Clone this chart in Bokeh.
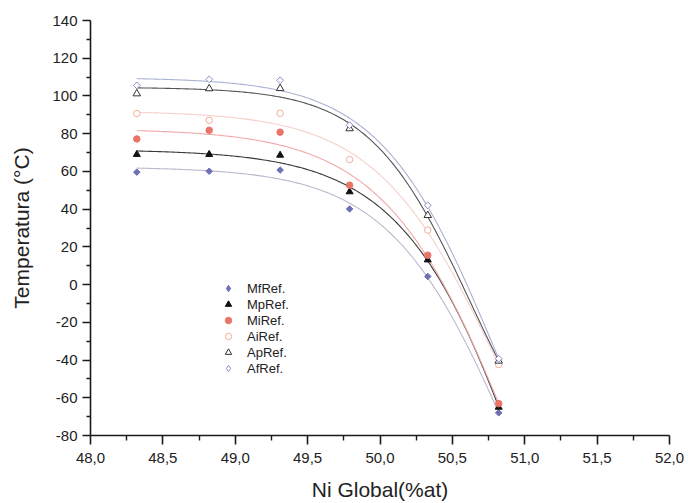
import numpy as np
from bokeh.plotting import figure
from bokeh.models import FixedTicker, Legend, LegendItem, Range1d
from bokeh.embed import file_html
from bokeh.resources import INLINE

# ---- data ----
ni = [48.32, 48.82, 49.31, 49.79, 50.33, 50.82]
mf = [59.6, 60.1, 60.7, 40.1, 4.3, -68.0]
mp = [69.0, 69.0, 68.6, 49.2, 13.1, -65.0]
mi = [77.2, 81.8, 80.8, 52.7, 15.6, -63.1]
ai = [90.7, 87.1, 90.8, 66.3, 28.9, -42.4]
ap = [101.2, 103.9, 104.0, 82.7, 36.7, -40.5]
af = [105.6, 108.8, 108.3, 84.5, 42.0, -39.3]
names = ["MfRef.", "MpRef.", "MiRef.", "AiRef.", "ApRef.", "AfRef."]

x_major = [48.0, 48.5, 49.0, 49.5, 50.0, 50.5, 51.0, 51.5, 52.0]
x_labels = ["48,0", "48,5", "49,0", "49,5", "50,0", "50,5", "51,0", "51,5", "52,0"]
x_minor = [48.25, 48.75, 49.25, 49.75, 50.25, 50.75, 51.25, 51.75]
y_major = [-80, -60, -40, -20, 0, 20, 40, 60, 80, 100, 120, 140]
y_labels = ["-80", "-60", "-40", "-20", "0", "20", "40", "60", "80", "100", "120", "140"]
y_minor = [-70, -50, -30, -10, 10, 30, 50, 70, 90, 110, 130]


def boltzmann_fit(x, y):
    x = np.asarray(x, float)
    y = np.asarray(y, float)
    best = None
    for x0 in np.linspace(49.5, 54.0, 181):
        for dx in np.linspace(0.2, 2.5, 93):
            s = 1.0 / (1.0 + np.exp((x - x0) / dx))
            A = np.vstack([np.ones_like(s), s]).T
            coef, *_ = np.linalg.lstsq(A, y, rcond=None)
            sse = float(((A @ coef - y) ** 2).sum())
            if best is None or sse < best[0]:
                best = (sse, x0, dx, coef)
    _, x0, dx, coef = best
    xs = np.linspace(x.min(), x.max(), 200)
    ys = coef[0] + coef[1] / (1.0 + np.exp((xs - x0) / dx))
    return xs, ys


FONT = "Liberation Sans"

p = figure(width=688, height=503, output_backend="svg", toolbar_location=None,
           x_range=Range1d(48.0, 52.0), y_range=Range1d(-80, 140),
           min_border_left=90, min_border_right=19, min_border_top=20,
           min_border_bottom=67)
p.outline_line_color = None
p.xgrid.visible = False
p.ygrid.visible = False
p.background_fill_color = "white"

series = [
    (mf, dict(marker="square", angle=np.pi / 4, size=4.6, fill_color="#6d70b4", line_color="#6d70b4"),
     dict(marker="diamond", fill_color="#6d70b4", line_color="#6d70b4"), "#bdb8cf"),
    (mp, dict(marker="triangle", size=7, fill_color="#111111", line_color="#111111"), None, "#3a3a3a"),
    (mi, dict(marker="circle", size=6.5, fill_color="#ea7468", line_color="#ea7468"), None, "#f0aaa8"),
    (ai, dict(marker="circle", size=6.5, fill_color="white", line_color="#f3ad9c"), None, "#f5d0cb"),
    (ap, dict(marker="triangle", size=7.5, fill_color="white", line_color="#333333"), None, "#555555"),
    (af, dict(marker="square", angle=np.pi / 4, size=4.8, fill_color="white", line_color="#8a8cc8"),
     dict(marker="diamond", fill_color="white", line_color="#8a8cc8"), "#aab2d2"),
]

items = []
for vals, mk, lg, curve_color in series:
    xs, ys = boltzmann_fit(ni, vals)
    p.line(xs, ys, line_color=curve_color, line_width=1.1)
for (vals, mk, lg, curve_color), name in zip(series, names):
    if lg is not None:
        # tiny diamond hidden under the rotated square; used only for the legend glyph
        rl = p.scatter(ni, vals, size=1, line_width=1, **lg)
        p.scatter(ni, vals, line_width=1, **mk)
        items.append(LegendItem(label=name, renderers=[rl]))
    else:
        r = p.scatter(ni, vals, line_width=1, **mk)
        items.append(LegendItem(label=name, renderers=[r]))

legend = Legend(items=items, location=(128, 59), orientation="vertical",
                border_line_alpha=0, background_fill_alpha=0, padding=0, margin=0,
                spacing=0, glyph_width=20, glyph_height=16, label_height=16,
                label_standoff=9, label_text_font=FONT, label_text_font_size="13px",
                label_text_color="#222222")
p.add_layout(legend)

xt = FixedTicker(ticks=x_major, minor_ticks=x_minor)
yt = FixedTicker(ticks=y_major, minor_ticks=y_minor)
p.xaxis.ticker = xt
p.yaxis.ticker = yt
p.xaxis.major_label_overrides = dict(zip(x_major, x_labels))
p.yaxis.major_label_overrides = dict(zip(y_major, y_labels))

for ax in (p.xaxis, p.yaxis):
    ax.axis_line_color = "#1a1a1a"
    ax.axis_line_width = 1.6
    ax.major_tick_line_color = "#1a1a1a"
    ax.major_tick_line_width = 1.6
    ax.minor_tick_line_color = "#1a1a1a"
    ax.minor_tick_line_width = 1.4
    ax.major_tick_in = 0
    ax.minor_tick_in = 0
    ax.major_label_text_font = FONT
    ax.major_label_text_font_size = "15px"
    ax.major_label_text_color = "#222222"
    ax.axis_label_text_font = FONT
    ax.axis_label_text_font_size = "21px"
    ax.axis_label_text_font_style = "normal"
    ax.axis_label_text_color = "#222222"

p.xaxis.major_tick_out = 9
p.xaxis.minor_tick_out = 5
p.xaxis.major_label_standoff = 8
p.xaxis.axis_label = "Ni Global(%at)"
p.xaxis.axis_label_standoff = 12

p.yaxis.major_tick_out = 8
p.yaxis.minor_tick_out = 4
p.yaxis.major_label_standoff = 5
p.yaxis.axis_label = "Temperatura (°C)"
p.yaxis.axis_label_standoff = 16

open("out.html", "w").write(file_html(p, INLINE))
